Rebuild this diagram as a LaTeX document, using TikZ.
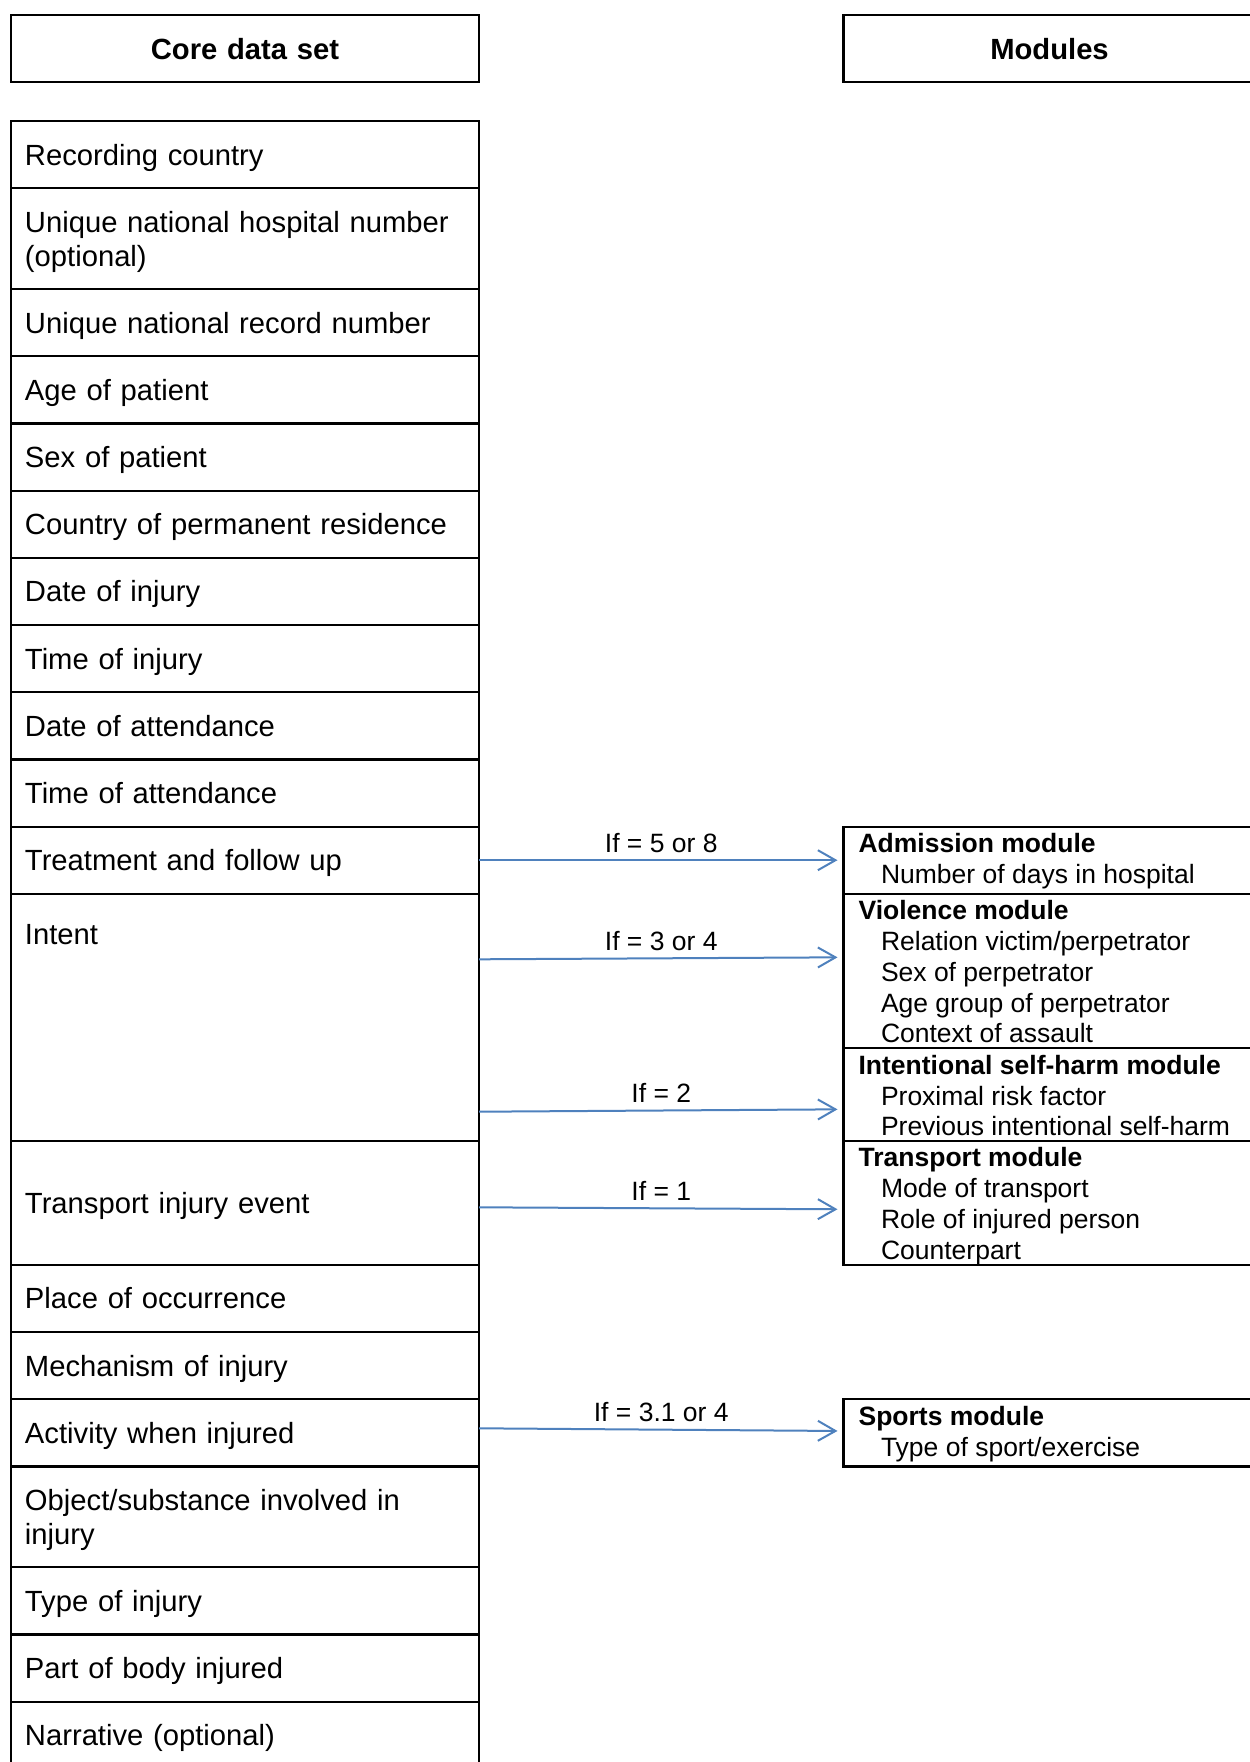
\documentclass[tikz,border=0pt]{standalone}
\usepackage{fontspec}
\setmainfont{Liberation Sans}
\usetikzlibrary{arrows.meta,positioning}
\definecolor{linkblue}{RGB}{79,129,189}
\newcommand{\cellfont}{\fontsize{14.6pt}{17pt}\selectfont}
\newcommand{\modfont}{\fontsize{13.25pt}{15.35pt}\selectfont}
\newcommand{\moditem}[1]{\hspace*{11.2pt}#1}
\tikzset{
    >={Straight Barb[length=8.8pt,width=10pt]},
    every picture/.style={line width=1.1pt},
    cell/.style={rectangle,draw,outer sep=0pt,inner xsep=7pt,inner ysep=3pt,
        minimum width=234pt,text width=220pt,align=left,font=\cellfont},
    row/.style={cell,minimum height=33.6pt,text height=10.5pt,text depth=0pt},
    tallrow/.style={cell,minimum height=50.4pt,text height=10.5pt,text depth=17pt},
    head/.style={row,align=center,font=\cellfont\bfseries,minimum height=33.5pt},
    modbox/.style={rectangle,draw,outer sep=0pt,minimum width=206pt},
    modtext/.style={anchor=north west,align=left,inner sep=0pt,font=\modfont},
    link/.style={->,draw=linkblue,line width=1pt,shorten >=3pt},
    cond/.style={midway,anchor=base,yshift=4pt,inner sep=0pt,font=\modfont}
}

\begin{document}
\begin{tikzpicture}
    \useasboundingbox (0,0) rectangle (624.5pt,-881pt);

    % Headers
    \node[head,anchor=north west] (core) at (5.5pt,-7.5pt) {Core data set};
    \node[head,anchor=north west,minimum width=206pt,text width=192pt] (modhead) at (421.75pt,-7.5pt) {Modules};

    % Core data set
    \node[row,below=19.5pt of core] (rec) {Recording country};
    \node[tallrow,below=0pt of rec] (hosp) {Unique national hospital number\\(optional)};
    \node[row,below=0pt of hosp] (recno) {Unique national record number};
    \node[row,below=0pt of recno] (age) {Age of patient};
    \node[row,below=0pt of age] (sex) {Sex of patient};
    \node[row,below=0pt of sex] (resid) {Country of permanent residence};
    \node[row,below=0pt of resid] (dinj) {Date of injury};
    \node[row,below=0pt of dinj] (tinj) {Time of injury};
    \node[row,below=0pt of tinj] (datt) {Date of attendance};
    \node[row,below=0pt of datt] (tatt) {Time of attendance};
    \node[row,below=0pt of tatt] (treat) {Treatment and follow up};
    \node[cell,below=0pt of treat,minimum height=123.5pt,text height=22.1pt,text depth=95.4pt] (intent) {Intent};
    \node[row,below=0pt of intent,minimum height=62pt] (transp) {Transport injury event};
    \node[row,below=0pt of transp] (place) {Place of occurrence};
    \node[row,below=0pt of place] (mech) {Mechanism of injury};
    \node[row,below=0pt of mech] (activ) {Activity when injured};
    \node[tallrow,below=0pt of activ] (object) {Object/substance involved in\\injury};
    \node[row,below=0pt of object] (type) {Type of injury};
    \node[row,below=0pt of type] (part) {Part of body injured};
    \node[row,below=0pt of part] (narr) {Narrative (optional)};

    % Modules
    \node[modbox,right=182.25pt of treat,minimum height=33.6pt] (adm) {};
    \node[modbox,below=0pt of adm,minimum height=77.25pt] (viol) {};
    \node[modbox,below=0pt of viol,minimum height=46.25pt] (self) {};
    \node[modbox,right=182.25pt of transp,minimum height=62pt] (tmod) {};
    \node[modbox,right=182.25pt of activ,minimum height=33.6pt] (sport) {};

    \node[modtext] (adm-t) at ([xshift=7pt,yshift=-2.9pt]adm.north west)
        {\textbf{Admission module}\\\moditem{Number of days in hospital}};
    \node[modtext] (viol-t) at ([xshift=7pt,yshift=-2.9pt]viol.north west)
        {\textbf{Violence module}\\\moditem{Relation victim/perpetrator}\\\moditem{Sex of perpetrator}\\
         \moditem{Age group of perpetrator}\\\moditem{Context of assault}};
    \node[modtext] (self-t) at ([xshift=7pt,yshift=-2.9pt]self.north west)
        {\textbf{Intentional self-harm module}\\\moditem{Proximal risk factor}\\\moditem{Previous intentional self-harm}};
    \node[modtext] (tmod-t) at ([xshift=7pt,yshift=-2.9pt]tmod.north west)
        {\textbf{Transport module}\\\moditem{Mode of transport}\\\moditem{Role of injured person}\\\moditem{Counterpart}};
    \node[modtext] (sport-t) at ([xshift=7pt,yshift=-2.9pt]sport.north west)
        {\textbf{Sports module}\\\moditem{Type of sport/exercise}};

    % Links
    \draw[link] (treat.east) -- node[cond] {If = 5 or 8} (adm.west);
    \draw[link] ([yshift=-32.75pt]intent.north east) -- node[cond] {If = 3 or 4} ([yshift=-31.75pt]viol.north west);
    \draw[link] ([yshift=14.55pt]intent.south east) -- node[cond] {If = 2} ([yshift=15.75pt]self.south west);
    \draw[link] ([yshift=-2.25pt]transp.east) -- node[cond] {If = 1} ([yshift=-3.25pt]tmod.west);
    \draw[link] ([yshift=2.25pt]activ.east) -- node[cond] {If = 3.1 or 4} ([yshift=0.9pt]sport.west);
\end{tikzpicture}
\end{document}
